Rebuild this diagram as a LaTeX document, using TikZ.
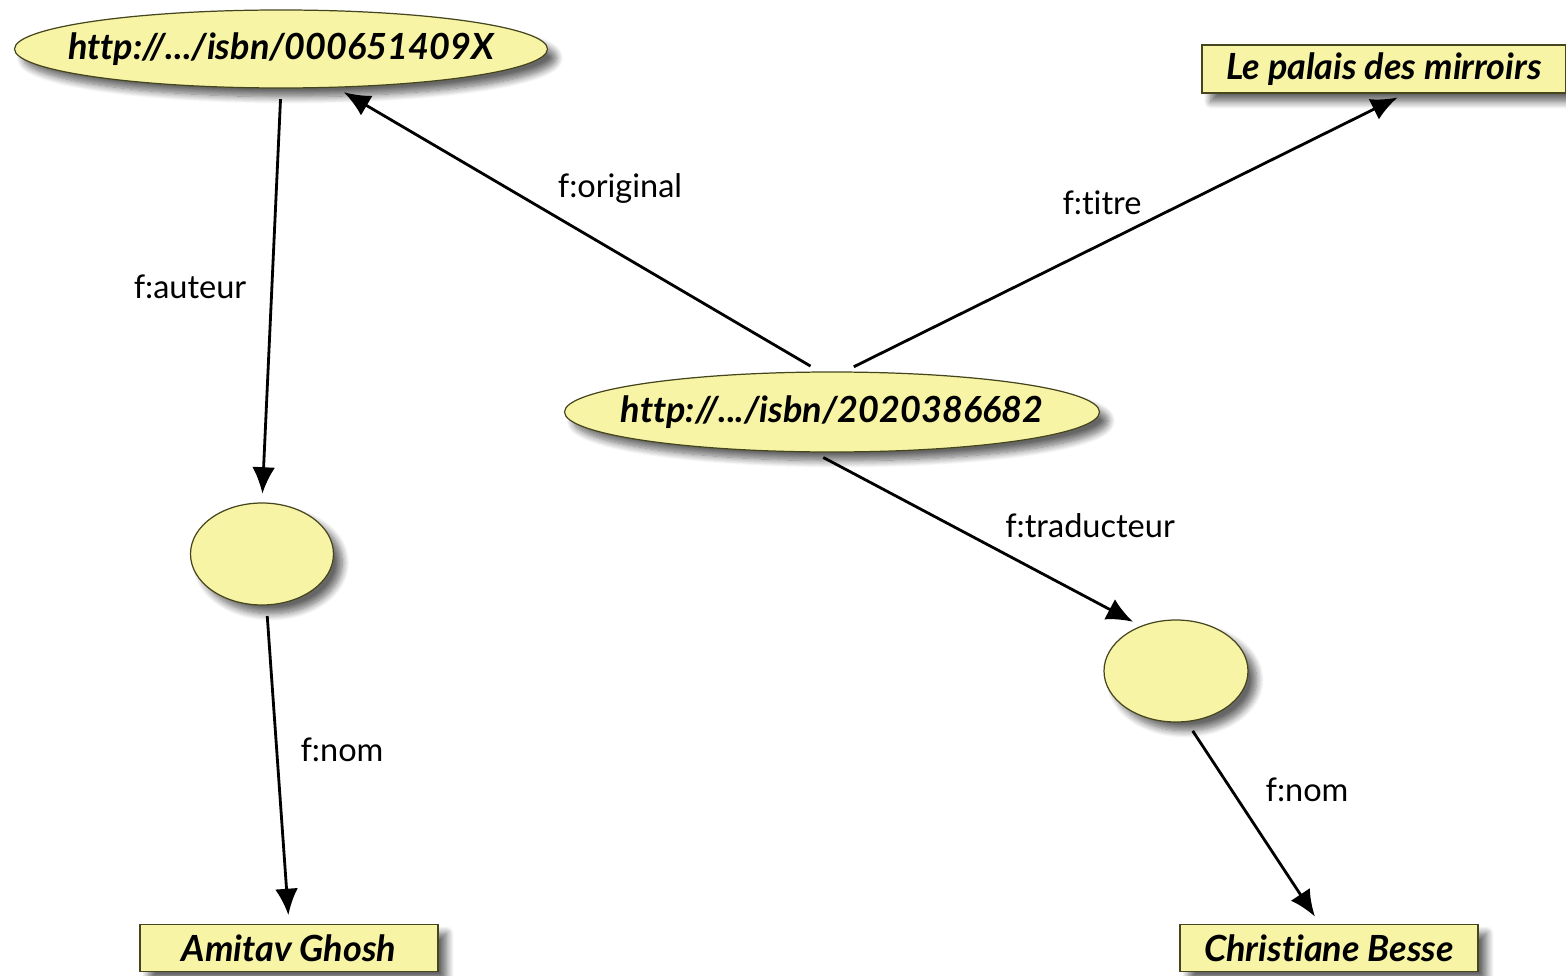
\documentclass[tikz,border=0pt]{standalone}
\usepackage{fontspec}
\setmainfont{Lato}[Ligatures=NoCommon]
\usetikzlibrary{shapes.geometric,arrows.meta,shadows.blur}
\definecolor{nodefill}{RGB}{247,244,166}
\definecolor{nodeline}{RGB}{70,70,30}
\tikzset{
  res/.style={ellipse,draw=nodeline,fill=nodefill,line width=0.7pt,inner sep=0pt,
    blur shadow={shadow xshift=5pt,shadow yshift=-5pt,shadow blur steps=10,shadow blur radius=4pt,shadow opacity=60},
    font=\fontsize{20.5}{24}\selectfont\bfseries\itshape},
  lit/.style={rectangle,draw=nodeline,fill=nodefill,line width=0.7pt,inner sep=0pt,
    blur shadow={shadow xshift=5pt,shadow yshift=-5pt,shadow blur steps=10,shadow blur radius=4pt,shadow opacity=60},
    font=\fontsize{20.5}{24}\selectfont\bfseries\itshape},
  prop/.style={font=\fontsize{18.5}{22}\selectfont},
  arc/.style={-{Latex[length=15pt,width=13pt]},line width=1.6pt,shorten <=6pt,shorten >=5pt}
}
\begin{document}
\begin{tikzpicture}
\useasboundingbox (0,0) rectangle (31.32,19.5);
% ressources
\node[res,minimum width=10.66cm,minimum height=1.56cm](orig) at(5.62,18.52){\makebox[0pt]{http://.../isbn/000651409X}};
\node[res,minimum width=10.7cm,minimum height=1.6cm](trad) at(16.64,11.26){\makebox[0pt]{http://.../isbn/2020386682}};
\node[res,minimum width=2.86cm,minimum height=2.04cm](auteur) at(5.24,8.42){};
\node[res,minimum width=2.88cm,minimum height=2.04cm](traducteur) at(23.52,6.08){};
% litteraux
\node[lit,minimum width=7.28cm,minimum height=0.96cm](titre) at(27.68,18.12){Le palais des mirroirs};
\node[lit,minimum width=5.96cm,minimum height=0.94cm](ghosh) at(5.78,0.54){Amitav Ghosh};
\node[lit,minimum width=5.96cm,minimum height=0.94cm](besse) at(26.58,0.54){Christiane Besse};
% proprietes
\draw[arc](orig.south)--(auteur.north);
\draw[arc](auteur.-85)--(ghosh.north);
\draw[arc](trad.107)--(orig.-35);
\draw[arc](trad.73)--(titre.-49);
\draw[arc](trad.-114)--(traducteur.128);
\draw[arc](traducteur.-78)--(besse.111);
\node[prop](pauteur) at(3.8,13.76){f:auteur};
\node[prop](pnom1) at(6.84,4.5){f:nom};
\node[prop](poriginal) at(12.4,15.74){f:original};
\node[prop](ptitre) at(22.04,15.44){f:titre};
\node[prop](ptraducteur) at(21.8,8.98){f:traducteur};
\node[prop](pnom2) at(26.14,3.7){f:nom};
\end{tikzpicture}
\end{document}
